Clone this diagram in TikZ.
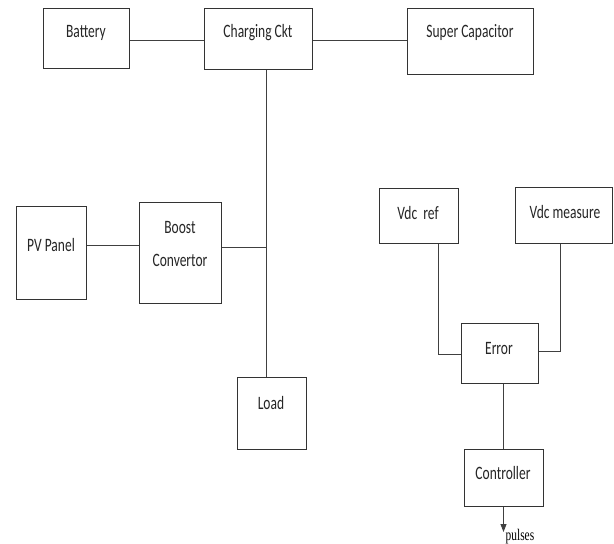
\documentclass[tikz,border=0pt]{standalone}
\usepackage{fontspec}
\usepackage{graphicx}
\setmainfont{Carlito}
\newfontfamily\pulsefont{Liberation Serif}
\usetikzlibrary{arrows.meta}
\newcommand\tallt[1]{\scalebox{1}[1.4]{#1}}
\tikzset{
  blk/.style={draw=black!80, line width=1pt, rectangle, inner sep=0pt},
  lbl/.style={inner sep=0pt, font=\fontsize{13.5}{15}\selectfont, text=black!85},
  wire/.style={draw=black!75, line width=0.9pt},
}
\begin{document}
\begin{tikzpicture}[x=1pt,y=-1pt]
\useasboundingbox[fill=white] (0,0) rectangle (614,544);
% boxes
\node[blk, minimum width=86pt, minimum height=60pt] (bat) at (86,38) {};
\node[blk, minimum width=108pt, minimum height=61pt] (chg) at (258,38.5) {};
\node[blk, minimum width=126pt, minimum height=66pt] (sc) at (470,41) {};
\node[blk, minimum width=70pt, minimum height=93pt] (pv) at (51,252.5) {};
\node[blk, minimum width=82pt, minimum height=101pt] (bst) at (180,252.5) {};
\node[blk, minimum width=69pt, minimum height=72pt] (load) at (271.5,413) {};
\node[blk, minimum width=79pt, minimum height=55pt] (vref) at (418.5,215.5) {};
\node[blk, minimum width=97pt, minimum height=56pt] (vmeas) at (563.5,215) {};
\node[blk, minimum width=77pt, minimum height=60pt] (err) at (499.5,353) {};
\node[blk, minimum width=79pt, minimum height=57pt] (ctrl) at (503.5,477.5) {};
% labels
\node[lbl] (batT) at (86,33) {\tallt{Battery}};
\node[lbl] (chgT) at (258,33) {\tallt{Charging Ckt}};
\node[lbl] (scT) at (470,33) {\tallt{Super Capacitor}};
\node[lbl] (pvT) at (51,245) {\tallt{PV Panel}};
\node[lbl] (bstT1) at (180,228) {\tallt{Boost}};
\node[lbl] (bstT2) at (180,260) {\tallt{Convertor}};
\node[lbl] (vrefT) at (418,213) {\tallt{Vdc\ \ ref}};
\node[lbl] (vmeasT) at (565,212) {\tallt{Vdc measure}};
\node[lbl] (errT) at (499,348) {\tallt{Error}};
\node[lbl] (ctrlT) at (503,473) {\tallt{Controller}};
\node[lbl] (loadT) at (271,403) {\tallt{Load}};
% connectors
\coordinate (bus) at (266.5,247);
\draw[wire] ([yshift=-2pt]bat.east) -- ([yshift=-2pt]bat.east -| chg.west);
\draw[wire] ([yshift=-1.5pt]chg.east) -- ([yshift=-1.5pt]chg.east -| sc.west);
\draw[wire] (chg.south -| bus) -- (load.north -| bus);
\draw[wire] ([yshift=7.5pt]pv.east) -- ([yshift=7.5pt]pv.east -| bst.west);
\draw[wire] (bus -| bst.east) -- (bus);
\draw[wire] ([xshift=19.5pt]vref.south) |- ([yshift=-1pt]err.west);
\draw[wire] ([xshift=-3.5pt]vmeas.south) |- ([yshift=2pt]err.east);
\draw[wire] (ctrl.north |- err.south) -- (ctrl.north);
\coordinate (pend) at (503.5,532);
\draw[wire, -{Triangle[length=8pt,width=6pt]}] (ctrl.south) -- (pend);
\node[inner sep=0pt, anchor=base west, font=\pulsefont\fontsize{12}{13}\selectfont] (pulses) at (505.5,540) {\scalebox{0.95}[1.35]{pulses}};
\end{tikzpicture}
\end{document}
